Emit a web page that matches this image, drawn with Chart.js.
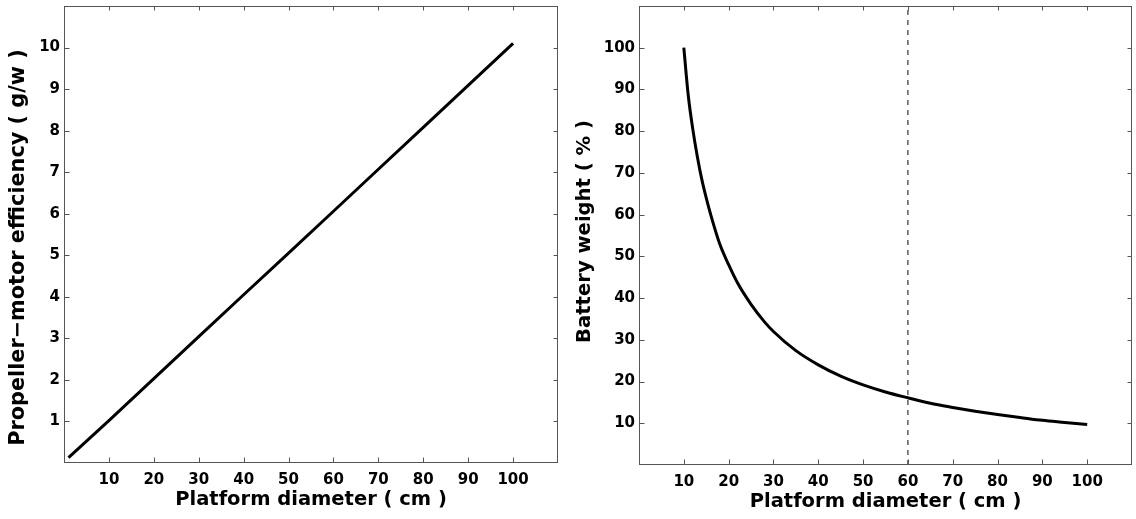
<!DOCTYPE html>
<html>
<head>
<meta charset="utf-8">
<script src="https://cdn.jsdelivr.net/npm/chart.js@4.4.1/dist/chart.umd.min.js"></script>
<style>
  body { margin: 0; background: #fff; }
  #wrap { position: relative; width: 1136px; height: 519px; }
  canvas { position: absolute; top: 0; }
  #effChart { left: 0; }
  #batChart { left: 568px; }
</style>
</head>
<body>
<div id="wrap">
  <canvas id="effChart" width="568" height="519"></canvas>
  <canvas id="batChart" width="568" height="519"></canvas>
</div>
<script>
// platform diameter ticks (cm), shared by both panels
var diamTicks = [10, 20, 30, 40, 50, 60, 70, 80, 90, 100];

// left panel: propeller-motor efficiency
var effDiam  = [1, 10, 20, 30, 40, 50, 60, 70, 80, 90, 100];
var effValue = [0.13, 1.02, 2.03, 3.04, 4.05, 5.05, 6.06, 7.07, 8.08, 9.09, 10.1];
var effTicks = [1, 2, 3, 4, 5, 6, 7, 8, 9, 10];

// right panel: battery weight share
var batDiam   = [10, 11, 12, 13, 14, 15, 16, 18, 20, 22, 25, 28, 30, 35, 40, 45, 50, 55, 60, 65, 70, 75, 80, 85, 90, 95, 100];
var batWeight = [100, 88.5, 80.5, 74, 68.5, 64, 60, 53, 48, 43.6, 38.5, 34.3, 32, 27.4, 24, 21.3, 19.2, 17.5, 16.1, 14.8, 13.8, 12.9, 12.1, 11.4, 10.7, 10.2, 9.7];
var batTicks  = [10, 20, 30, 40, 50, 60, 70, 80, 90, 100];

// chosen platform size (dashed marker)
var markDiam = 60;

var FONT = 'DejaVu Sans';

function toPoints(xs, ys){
  var pts = [];
  for (let i = 0; i < xs.length; i++) {
    pts.push({x: xs[i], y: ys[i]});
  }
  return pts;
}

// matlab style box with inward ticks on all four sides
var boxTicks = {
  id: 'boxTicks',
  afterDraw: function(chart){
    var ctx = chart.ctx;
    var a = chart.chartArea;
    var L = Math.round(a.left) + 0.5, R = Math.round(a.right) - 0.5;
    var T = Math.round(a.top) + 0.5, B = Math.round(a.bottom) - 0.5;
    ctx.save();
    ctx.strokeStyle = '#555';
    ctx.lineWidth = 1;
    ctx.strokeRect(L, T, R - L, B - T);
    ctx.beginPath();
    chart.scales.x.ticks.forEach(function(t){
      var px = Math.round(chart.scales.x.getPixelForValue(t.value)) + 0.5;
      ctx.moveTo(px, B); ctx.lineTo(px, B - 5);
      ctx.moveTo(px, T); ctx.lineTo(px, T + 4);
    });
    chart.scales.y.ticks.forEach(function(t){
      var py = Math.round(chart.scales.y.getPixelForValue(t.value)) + 0.5;
      ctx.moveTo(L, py); ctx.lineTo(L + 5, py);
      ctx.moveTo(R, py); ctx.lineTo(R - 4, py);
    });
    ctx.stroke();
    ctx.restore();
  }
};

// axis labels, drawn by hand so the y label can sit off-centre like the print
var axisTitles = {
  id: 'axisTitles',
  afterDraw: function(chart, args, o){
    var ctx = chart.ctx;
    var a = chart.chartArea;
    ctx.save();
    ctx.fillStyle = '#000';
    ctx.textAlign = 'center';
    ctx.textBaseline = 'middle';
    ctx.font = 'bold ' + o.xSize + 'px "' + FONT + '"';
    ctx.fillText(o.xText, (a.left + a.right) / 2, o.xPos);
    ctx.font = 'bold ' + o.ySize + 'px "' + FONT + '"';
    ctx.translate(o.yPos, (a.top + a.bottom) / 2 + o.yShift);
    ctx.rotate(-Math.PI / 2);
    ctx.fillText(o.yText, 0, 0);
    ctx.restore();
  }
};

function noPadX(s, h){ s.height = h; s.paddingLeft = 0; s.paddingRight = 0; }
function noPadY(s, w){ s.width = w; s.paddingTop = 0; s.paddingBottom = 0; }

var tickFont = { family: FONT, weight: 'bold', size: 15 };

var effChart = new Chart(document.getElementById('effChart'), {
  type: 'line',
  data: {
    datasets: [{
      data: toPoints(effDiam, effValue),
      borderColor: '#000',
      borderWidth: 3,
      pointRadius: 0,
      fill: false
    }]
  },
  options: {
    responsive: false,
    animation: false,
    layout: { padding: { top: 6, right: 10, left: 0, bottom: 0 } },
    plugins: {
      legend: { display: false },
      tooltip: { enabled: false },
      axisTitles: {
        xText: 'Platform diameter ( cm )', xSize: 19.5, xPos: 499.5,
        yText: 'Propeller\u2212motor efficiency ( g/w )', ySize: 20.8, yPos: 18.6, yShift: 13
      }
    },
    scales: {
      x: {
        type: 'linear', min: 0, max: 110,
        afterBuildTicks: function(s){ s.ticks = diamTicks.map(v => ({value: v})); },
        afterFit: function(s){ noPadX(s, 56); },
        grid: { display: false, drawTicks: false },
        border: { display: false },
        ticks: { color: '#000', padding: 8, maxRotation: 0, font: tickFont }
      },
      y: {
        type: 'linear', min: 0, max: 11,
        afterBuildTicks: function(s){ s.ticks = effTicks.map(v => ({value: v})); },
        afterFit: function(s){ noPadY(s, 64); },
        grid: { display: false, drawTicks: false },
        border: { display: false },
        ticks: { color: '#000', padding: 4, font: tickFont }
      }
    }
  },
  plugins: [boxTicks, axisTitles]
});

var batChart = new Chart(document.getElementById('batChart'), {
  type: 'line',
  data: {
    datasets: [{
      data: toPoints(batDiam, batWeight),
      borderColor: '#000',
      borderWidth: 3,
      pointRadius: 0,
      cubicInterpolationMode: 'monotone',
      fill: false
    }, {
      data: toPoints([markDiam, markDiam], [0, 110]),
      borderColor: '#333',
      borderWidth: 1.2,
      borderDash: [5, 5],
      pointRadius: 0,
      fill: false
    }]
  },
  options: {
    responsive: false,
    animation: false,
    layout: { padding: { top: 6, right: 4, left: 0, bottom: 0 } },
    plugins: {
      legend: { display: false },
      tooltip: { enabled: false },
      axisTitles: {
        xText: 'Platform diameter ( cm )', xSize: 19.5, xPos: 501.5,
        yText: 'Battery weight ( % )', ySize: 19.6, yPos: 16.6, yShift: -4
      }
    },
    scales: {
      x: {
        type: 'linear', min: 0, max: 110,
        afterBuildTicks: function(s){ s.ticks = diamTicks.map(v => ({value: v})); },
        afterFit: function(s){ noPadX(s, 54); },
        grid: { display: false, drawTicks: false },
        border: { display: false },
        ticks: { color: '#000', padding: 8, maxRotation: 0, font: tickFont }
      },
      y: {
        type: 'linear', min: 0, max: 110,
        afterBuildTicks: function(s){ s.ticks = batTicks.map(v => ({value: v})); },
        afterFit: function(s){ noPadY(s, 71); },
        grid: { display: false, drawTicks: false },
        border: { display: false },
        ticks: { color: '#000', padding: 4, font: tickFont }
      }
    }
  },
  plugins: [boxTicks, axisTitles]
});
</script>
</body>
</html>
